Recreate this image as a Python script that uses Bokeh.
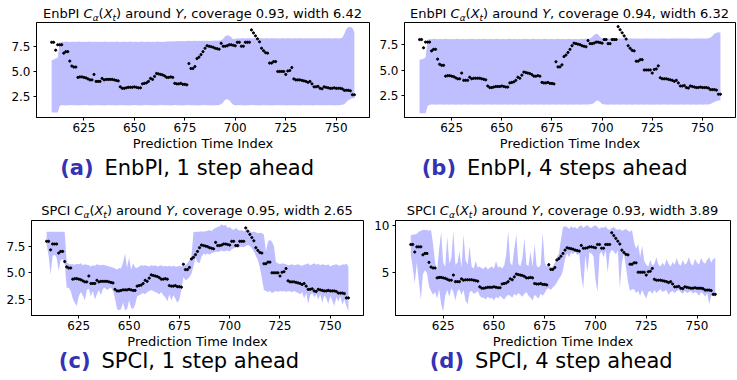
from bokeh.plotting import figure
from bokeh.layouts import column, row
from bokeh.models import Range1d, FixedTicker, Div
from bokeh.embed import file_html
from bokeh.resources import INLINE

# ---------------- data ----------------
T0 = 609  # first prediction time index

y_obs = [7.95, 7.95, 7.15, 7.7, 7.7, 7.7, 6.85, 7.0, 7.0, 6.05,
         5.55, 5.45, 5.45, 4.4, 4.45, 4.45, 4.4, 4.35, 4.25, 4.15,
         4.15, 4.7, 4.0, 4.0, 4.0, 4.3, 4.15, 4.2, 4.2, 4.2,
         4.2, 4.15, 4.1, 4.05, 3.45, 3.3, 3.3, 3.35, 3.4, 3.4,
         3.4, 3.45, 3.4, 3.35, 3.35, 3.75, 3.8, 3.85, 4.0, 4.3,
         4.2, 4.5, 4.8, 4.75, 4.7, 4.65, 4.55, 4.4, 4.4, 4.45,
         4.4, 3.8, 3.75, 3.75, 3.8, 3.7, 3.7, 3.65, 5.8, 5.3,
         5.3, 5.5, 6.3, 6.45, 6.7, 7.0, 7.35, 7.6, 7.55, 7.5,
         7.45, 7.35, 7.3, 7.25, 7.85, 7.55, 7.55, 7.6, 7.7, 7.7,
         7.65, 7.6, 7.95, 7.95, 7.55, 7.55, 7.95, 7.95, 7.95, 9.2,
         8.9, 8.6, 8.3, 8.0, 7.35, 7.1, 6.9, 6.85, 5.85, 5.85,
         6.0, 6.0, 5.0, 5.0, 5.0, 5.0, 4.7, 5.05, 5.1, 5.4,
         4.25, 4.15, 4.15, 4.15, 4.1, 4.05, 4.0, 3.9, 4.0, 3.75,
         3.45, 3.45, 3.5, 3.3, 3.25, 3.45, 3.4, 3.35, 3.3, 3.3,
         3.35, 3.3, 3.3, 3.3, 3.25, 3.1, 3.1, 3.1, 3.05, 2.65,
         2.65]

enbpi1_hi = [6.1, 6.2, 6.3, 6.4,
             7.9, 8.0, 7.98, 8.02, 8.0, 7.97, 8.01, 8.0, 7.98, 8.02,
             8.0, 7.99, 8.01, 7.97, 8.0, 8.02, 7.98, 8.0, 8.01, 7.99,
             8.0, 7.98, 8.02, 8.0, 7.97, 8.01, 8.0, 7.99, 8.02, 8.0,
             7.98, 8.0, 8.01, 7.99, 8.0, 8.02, 7.98, 8.0, 8.01, 7.99,
             8.0, 8.02, 7.98, 8.0, 8.01, 7.99, 8.0, 7.98, 8.02, 8.0,
             8.01, 7.99, 8.0, 8.02, 8.03, 8.05, 8.04, 8.06, 8.05, 8.07,
             8.06, 8.08, 8.05, 8.07, 8.1, 8.08, 8.09, 8.1, 8.08, 8.1,
             8.09, 8.1, 8.08, 8.1, 8.09, 8.11, 8.1, 8.12, 8.1, 8.12,
             8.15, 8.3, 8.55, 8.65, 8.6, 8.45, 8.25,
             8.3, 8.35, 8.33, 8.36, 8.35, 8.34, 8.36, 8.35, 8.33, 8.36,
             8.35, 8.34, 8.36, 8.35, 8.33, 8.35, 8.36, 8.34, 8.35, 8.36,
             8.34, 8.35, 8.33, 8.36, 8.35, 8.34, 8.36, 8.35, 8.33, 8.35,
             8.36, 8.34, 8.35, 8.36, 8.34, 8.35, 8.33, 8.36, 8.35, 8.34,
             8.36, 8.35, 8.33, 8.35, 8.36, 8.34, 8.35, 8.36, 8.34, 8.35,
             8.36, 8.34, 8.35, 8.4,
             8.8, 9.3, 9.5, 9.5, 9.4, 9.0]
enbpi1_lo = [0.85, 0.85, 0.85, 0.85,
             1.5, 1.58, 1.6, 1.57, 1.6, 1.59, 1.61, 1.58, 1.6, 1.57,
             1.6, 1.59, 1.58, 1.61, 1.6, 1.57, 1.59, 1.6, 1.58, 1.61,
             1.59, 1.6, 1.57, 1.6, 1.61, 1.58, 1.6, 1.59, 1.57, 1.6,
             1.61, 1.58, 1.6, 1.59, 1.57, 1.6, 1.58, 1.61, 1.59, 1.6,
             1.57, 1.6, 1.59, 1.61, 1.58, 1.6, 1.59, 1.57, 1.6, 1.58,
             1.61, 1.6, 1.58, 1.59, 1.6, 1.57, 1.6, 1.61, 1.58, 1.6,
             1.59, 1.57, 1.6, 1.58, 1.61, 1.6, 1.59, 1.58, 1.6, 1.57,
             1.6, 1.59, 1.61, 1.58, 1.6, 1.59, 1.57, 1.6, 1.58, 1.62,
             1.7, 1.9, 2.15, 2.2, 2.1, 1.85, 1.65,
             1.6, 1.58, 1.61, 1.59, 1.6, 1.57, 1.6, 1.58, 1.61, 1.59,
             1.6, 1.58, 1.57, 1.6, 1.61, 1.59, 1.6, 1.58, 1.57, 1.6,
             1.59, 1.61, 1.6, 1.58, 1.59, 1.6, 1.57, 1.61, 1.6, 1.58,
             1.6, 1.59, 1.57, 1.6, 1.61, 1.58, 1.6, 1.59, 1.6, 1.57,
             1.61, 1.6, 1.58, 1.59, 1.6, 1.58, 1.61, 1.6, 1.59, 1.6,
             1.58, 1.6, 1.61, 1.63,
             1.7, 1.9, 2.1, 2.2, 2.3, 2.3]

enbpi4_hi = [6.0, 6.05, 6.1, 6.2,
             7.9, 8.0, 7.98, 8.02, 8.0, 7.97, 8.01, 8.0, 7.98, 8.02,
             8.0, 7.99, 8.01, 7.97, 8.0, 8.02, 7.98, 8.0, 8.01, 7.99,
             8.0, 7.98, 8.02, 8.0, 7.97, 8.01, 8.0, 7.99, 8.02, 8.0,
             7.98, 8.0, 8.01, 7.99, 8.0, 8.02, 7.98, 8.0, 8.01, 7.99,
             8.0, 8.02, 7.98, 8.0, 8.01, 7.99, 8.0, 7.98, 8.02, 8.0,
             8.01, 7.99, 8.0, 8.02, 7.98, 8.0, 8.01, 7.99, 8.0, 8.02,
             7.98, 8.0, 8.01, 7.99, 8.0, 8.02, 7.98, 8.0, 8.01, 7.99,
             8.0, 8.02, 7.98, 8.0, 8.01, 7.99, 8.0, 8.02, 8.01, 8.03,
             8.02, 8.05,
             8.2, 8.4, 8.5, 8.45, 8.2, 8.05,
             8.05, 8.04, 8.06, 8.05, 8.03, 8.05, 8.06, 8.04, 8.05, 8.06,
             8.04, 8.05, 8.03, 8.06, 8.05, 8.04, 8.06, 8.05, 8.03, 8.05,
             8.06, 8.04, 8.05, 8.06, 8.04, 8.05, 8.03, 8.06, 8.05, 8.04,
             8.06, 8.05, 8.03, 8.05, 8.06, 8.04, 8.05, 8.06, 8.04, 8.05,
             8.05, 8.04, 8.06, 8.05, 8.03, 8.05, 8.06, 8.04, 8.05, 8.06,
             8.05, 8.06, 8.08, 8.15,
             8.3, 8.5, 8.6, 8.65, 8.6]
enbpi4_lo = [0.8, 0.8, 0.8, 0.8,
             1.5, 1.63, 1.65, 1.66, 1.64, 1.65, 1.67, 1.65, 1.64, 1.66,
             1.65, 1.64, 1.66, 1.65, 1.63, 1.65, 1.66, 1.64, 1.65, 1.67,
             1.64, 1.65, 1.66, 1.64, 1.65, 1.63, 1.66, 1.65, 1.64, 1.66,
             1.65, 1.67, 1.64, 1.65, 1.66, 1.64, 1.65, 1.63, 1.66, 1.65,
             1.64, 1.66, 1.65, 1.64, 1.67, 1.65, 1.63, 1.66, 1.65, 1.64,
             1.66, 1.65, 1.64, 1.65, 1.66, 1.63, 1.65, 1.67, 1.64, 1.65,
             1.65, 1.64, 1.66, 1.65, 1.63, 1.66, 1.65, 1.64, 1.66, 1.65,
             1.64, 1.66, 1.65, 1.63, 1.65, 1.66, 1.64, 1.65, 1.67, 1.65,
             1.66, 1.68, 1.7,
             1.8, 2.0, 2.05, 1.9, 1.7,
             1.66, 1.65, 1.64, 1.66, 1.65, 1.63, 1.66, 1.65, 1.64, 1.66,
             1.65, 1.64, 1.66, 1.65, 1.63, 1.65, 1.66, 1.64, 1.65, 1.67,
             1.64, 1.65, 1.66, 1.64, 1.65, 1.63, 1.66, 1.65, 1.64, 1.66,
             1.65, 1.67, 1.64, 1.65, 1.66, 1.64, 1.65, 1.63, 1.66, 1.65,
             1.64, 1.66, 1.65, 1.64, 1.67, 1.65, 1.63, 1.66, 1.65, 1.64,
             1.65, 1.66, 1.65,
             1.7, 1.8, 1.9, 2.0, 2.05, 2.05]

spci1_hi = [8.85, 8.85, 8.85, 8.85, 8.85, 8.85, 8.85, 8.85, 8.85, 8.8,
            6.0,
            5.85, 5.8, 5.8, 5.75, 5.85, 5.8, 5.9, 5.7, 5.8, 5.75,
            5.7, 5.6, 5.7, 5.65, 5.8, 5.75, 5.7, 5.75, 5.7, 5.65,
            5.6, 5.55, 5.5,
            5.4, 5.3, 5.45, 5.4, 6.0, 6.8, 5.5, 6.4, 5.3, 5.9, 5.5, 5.45, 5.6,
            5.7, 5.65, 5.7, 5.65, 5.6, 5.7, 5.65, 5.7, 5.6, 5.65,
            5.7, 5.6, 5.65, 5.6, 5.65, 5.6, 5.65, 5.6, 5.6, 5.65, 5.6,
            5.65, 5.7, 5.9, 6.2, 6.6, 8.8, 8.85,
            8.85, 8.85, 8.9, 8.85, 8.9, 8.95, 9.0, 8.9, 9.1, 9.2,
            9.3, 9.35, 9.55, 9.4, 9.5, 9.2, 9.3, 9.1, 9.0, 9.2,
            9.05, 8.95, 9.0, 8.9, 9.0, 8.95, 8.9, 8.8, 8.85, 8.8,
            8.7, 8.75, 8.7,
            8.6, 7.0, 7.9, 8.1, 7.9, 7.5, 6.0, 5.9, 5.8, 5.9,
            5.85, 5.8, 5.7, 5.75, 5.8, 5.7, 5.75, 5.8, 5.7, 5.65,
            5.75, 5.8, 5.9, 5.7, 5.8, 5.9, 5.75, 5.85, 5.7, 5.8,
            5.75, 5.7, 5.8, 5.6, 5.7, 5.75, 5.8, 5.7, 5.65, 5.8,
            5.75, 5.85, 5.6]
spci1_lo = [7.7, 6.6, 4.85, 6.6, 6.7, 6.4, 5.2, 6.2, 6.3, 5.9,
            3.6,
            3.6, 3.3, 2.6, 2.2, 1.9, 2.8, 3.2, 2.9, 2.4, 3.4,
            3.5, 2.8, 3.3, 2.5, 3.0, 3.4, 2.9, 3.5, 3.6, 3.4,
            3.5, 3.6, 3.3,
            2.6, 1.6, 1.5, 1.6, 2.2, 1.5, 1.6, 2.4, 1.7, 1.6, 2.0, 2.8, 2.9,
            3.0, 3.1, 3.0, 3.2, 3.3, 3.4, 3.3, 3.2, 3.1, 3.0,
            3.2, 2.9, 2.7, 2.3, 3.0, 2.4, 2.9, 2.6, 2.2, 2.5, 3.4,
            4.6, 4.3, 4.4, 4.6, 4.9, 5.6, 6.4,
            6.0, 5.9, 6.5, 6.8, 6.7, 6.8, 6.7, 6.85, 6.9, 7.0,
            6.95, 7.0, 7.1, 7.0, 7.05, 7.1, 7.0, 7.2, 7.3, 7.4,
            7.35, 7.4, 7.45, 7.4, 7.5, 7.6, 7.5, 7.3, 7.0, 6.6,
            6.2, 5.5, 4.5,
            3.4, 3.3, 3.2, 3.3, 3.1, 3.2, 3.3, 3.2, 3.3, 3.25,
            3.3, 3.2, 3.3, 3.25, 3.2, 3.3, 3.2, 3.1, 3.0, 3.2,
            2.6, 3.1, 2.1, 2.9, 3.1, 2.7, 3.0, 2.5, 3.0, 2.2,
            2.9, 2.6, 2.1, 2.8, 2.4, 1.9, 2.7, 2.3, 2.8, 2.0,
            2.5, 1.9, 1.4]

spci4_hi = [8.9, 9.0, 9.0, 9.1, 9.3, 9.4, 9.5, 9.5, 9.5, 9.4,
            9.5, 8.0, 6.0, 5.2, 7.5, 9.3, 6.0, 5.6, 8.8, 5.9,
            6.5, 9.4, 5.8, 6.0, 7.2, 5.5, 9.0, 6.3, 5.8, 7.8,
            5.6, 5.4, 6.2, 5.5, 5.6, 5.4,
            5.4, 5.6, 5.3, 5.5, 5.6, 5.4, 6.2, 5.5, 5.6, 5.4,
            5.7, 6.8, 9.4, 6.0, 5.7, 7.5, 9.0, 5.9, 5.6, 6.5,
            8.6, 5.8, 5.7, 7.2, 5.6, 8.0, 5.7, 5.5, 5.8, 9.2,
            6.0, 5.6, 6.0, 5.5, 5.6,
            6.0, 6.6, 7.0, 8.5, 9.8, 9.9,
            9.8, 9.6, 9.9, 9.7, 9.8, 9.6, 9.9, 10.0, 9.7, 9.9,
            10.0, 9.8, 9.7, 9.9, 10.0, 9.8, 9.6, 9.8, 9.7, 9.9,
            9.6, 9.5, 9.7, 9.8, 9.6, 9.5, 9.6, 9.4, 9.5, 9.6,
            9.4, 9.3, 9.5,
            8.2, 7.5, 8.0, 6.6, 7.8, 6.2, 5.8, 5.6, 6.3, 5.7,
            5.9, 6.6, 5.8, 5.6, 6.0, 5.7, 6.4, 5.9, 5.6, 6.1,
            5.8, 6.5, 5.9, 5.7, 6.3, 5.8, 6.0, 6.6, 5.9, 5.7,
            6.4, 6.0, 5.8, 6.5, 6.1, 5.9, 6.3, 6.6, 6.0, 6.4,
            6.5]
spci4_lo = [6.9, 5.5, 3.8, 6.0, 4.0, 2.1, 4.8, 5.2, 4.9, 3.5,
            3.0, 2.6, 2.9, 2.2, 3.2, 1.6, 0.85, 2.5, 3.1, 2.4,
            3.3, 2.9, 2.0, 3.0, 3.2, 2.6, 3.1, 2.0, 1.6, 2.9,
            3.0, 2.7, 2.8, 3.0, 2.5, 2.3,
            2.3, 2.1, 2.4, 2.2, 2.3, 2.0, 2.4, 2.2, 2.5, 2.3,
            2.1, 2.4, 2.6, 2.5, 2.3, 2.7, 2.5, 2.8, 2.6, 2.4,
            2.7, 2.9, 2.5, 2.3, 2.0, 2.6, 2.4, 2.2, 2.7, 2.5,
            2.8, 3.2, 3.3, 3.1, 3.4,
            3.6, 3.9, 4.3, 4.6, 5.2, 6.4,
            7.0, 6.6, 7.1, 6.9, 7.2, 6.8, 7.0, 4.5, 3.3, 6.8,
            5.0, 7.1, 7.0, 6.7, 4.2, 2.9, 6.9, 7.2, 6.6, 7.3,
            5.0, 7.0, 7.4, 7.2, 6.9, 7.3, 3.3, 6.0, 7.0, 5.5,
            4.0, 3.0, 3.2,
            3.2, 2.8, 3.0, 2.5, 3.1, 2.6, 2.2, 2.9, 3.0, 2.7,
            3.1, 2.8, 3.0, 3.2, 2.9, 3.0, 3.1, 2.6, 2.9, 3.0,
            2.8, 3.0, 3.1, 2.9, 2.7, 3.0, 2.8, 2.9, 3.0, 2.7,
            2.9, 2.8, 2.5, 2.9, 2.7, 2.4, 2.8, 1.6, 2.5, 2.5,
            2.4]

x_ticks = [625, 650, 675, 700, 725, 750]
methods = ["EnbPI", "EnbPI", "SPCI", "SPCI"]
coverages = ["0.93", "0.94", "0.95", "0.93"]
widths = ["6.42", "6.32", "2.65", "3.89"]
letters = ["(a)", "(b)", "(c)", "(d)"]
captions = ["EnbPI, 1 step ahead", "EnbPI, 4 steps ahead",
            "SPCI, 1 step ahead", "SPCI, 4 step ahead"]
y_tick_sets = [[2.5, 5, 7.5], [2.5, 5, 7.5], [2.5, 5, 7.5], [5, 10]]
y_limits = [(0.35, 9.95), (0.4, 9.6), (1.0, 9.9), (0.4, 10.5)]
bands = [(enbpi1_lo, enbpi1_hi), (enbpi4_lo, enbpi4_hi),
         (spci1_lo, spci1_hi), (spci4_lo, spci4_hi)]

# ---------------- style ----------------
X0, X1 = 601.5, 766.5
FONT = "DejaVu Sans"
BAND = "#bfbfff"
BLUE = "#3333b3"

# per panel geometry (px): column width, plot borders, caption anchor
geo = [
    dict(W=370, bl=36, br=1, cap_p=93.5),
    dict(W=366, bl=34, br=1, cap_p=86.0),
    dict(W=370, bl=31, br=7, cap_p=90.5),
    dict(W=366, bl=25, br=6, cap_p=94.0),
]
# per row: title strip height & title baseline (from strip top),
# plot height, caption strip height & caption baseline (from strip top)
rows_geo = [dict(th=21, tb=17.5, mh=132, ch=37, cb=23.0),
            dict(th=29, tb=25.0, mh=132, ch=29, cb=18.0)]
FRAME_H = 96


def title_div(k, W, H, cx, base):
    top = base - 11.0
    html = (
        '<div style="position:relative;width:%dpx;height:%dpx;overflow:visible;">'
        '<div style="position:absolute;left:%.1fpx;top:%.1fpx;transform:translateX(-50%%);'
        'white-space:nowrap;font-family:\'DejaVu Sans\';font-size:13px;line-height:13px;color:#000;">'
        '%s <i>C</i><sub style="font-size:9px;vertical-align:-2.5px;line-height:0;"><i>&alpha;</i></sub>'
        '(<i>X</i><sub style="font-size:9px;vertical-align:-2.5px;line-height:0;"><i>t</i></sub>) around '
        '<i>Y</i>, coverage %s, width %s</div></div>'
        % (W, H, cx, top, methods[k], coverages[k], widths[k]))
    return Div(text=html, width=W, height=H, margin=(0, 0, 0, 0))


def caption_div(k, W, H, p_right, base):
    top = base - 17.8
    html = (
        '<div style="position:relative;width:%dpx;height:%dpx;overflow:visible;'
        'font-family:\'DejaVu Sans\';font-size:21px;line-height:21px;">'
        '<span style="position:absolute;right:%.1fpx;top:%.1fpx;white-space:nowrap;'
        'font-weight:bold;color:%s;">%s</span>'
        '<span style="position:absolute;left:%.1fpx;top:%.1fpx;white-space:nowrap;color:#000;">%s</span>'
        '</div>'
        % (W, H, W - p_right, top, BLUE, letters[k], p_right + 11, top, captions[k]))
    return Div(text=html, width=W, height=H, margin=(0, 0, 0, 0))


def make_panel(k):
    g = geo[k]
    rg = rows_geo[k // 2]
    W = g["W"]
    lo, hi = bands[k]
    y0, y1 = y_limits[k]
    fw = W - g["bl"] - g["br"]

    p = figure(width=W, height=rg["mh"],
               x_range=Range1d(X0, X1), y_range=Range1d(y0, y1),
               output_backend="svg", toolbar_location=None,
               min_border_left=g["bl"], min_border_right=g["br"],
               min_border_top=1, min_border_bottom=rg["mh"] - 1 - FRAME_H,
               background_fill_color="white", border_fill_color="white",
               outline_line_color="black", outline_line_width=1)
    n = min(len(lo), len(hi))
    xb = [T0 + i for i in range(n)]
    p.varea(x=xb, y1=lo[:n], y2=hi[:n], fill_color=BAND, fill_alpha=1.0)
    xs = [T0 + i for i in range(len(y_obs))]
    p.scatter(x=xs, y=y_obs, size=2.2, color="black", marker="circle")

    p.xgrid.visible = False
    p.ygrid.visible = False
    for ax in (p.xaxis[0], p.yaxis[0]):
        ax.axis_line_color = "black"
        ax.major_tick_line_color = "black"
        ax.major_tick_in = 0
        ax.major_tick_out = 3
        ax.minor_tick_line_color = None
        ax.major_label_text_font = FONT
        ax.major_label_text_font_size = "12px"
        ax.major_label_text_color = "black"
    p.xaxis.ticker = FixedTicker(ticks=x_ticks)
    p.xaxis.major_label_standoff = 2
    p.xaxis.axis_label = "Prediction Time Index"
    p.xaxis.axis_label_text_font = FONT
    p.xaxis.axis_label_text_font_size = "13px"
    p.xaxis.axis_label_text_font_style = "normal"
    p.xaxis.axis_label_text_color = "black"
    p.xaxis.axis_label_standoff = 1
    yt = y_tick_sets[k]
    p.yaxis.ticker = FixedTicker(ticks=yt)
    if k < 3:
        p.yaxis.major_label_overrides = {t: "%.1f" % t for t in yt}
    p.yaxis.major_label_standoff = 3

    t = title_div(k, W, rg["th"], g["bl"] + fw / 2.0, rg["tb"])
    c = caption_div(k, W, rg["ch"], g["cap_p"], rg["cb"])
    return column(t, p, c)


panels = [make_panel(k) for k in range(4)]
layout = column(row(panels[0], panels[1]), row(panels[2], panels[3]))

with open("out.html", "w") as f:
    f.write(file_html(layout, INLINE))
